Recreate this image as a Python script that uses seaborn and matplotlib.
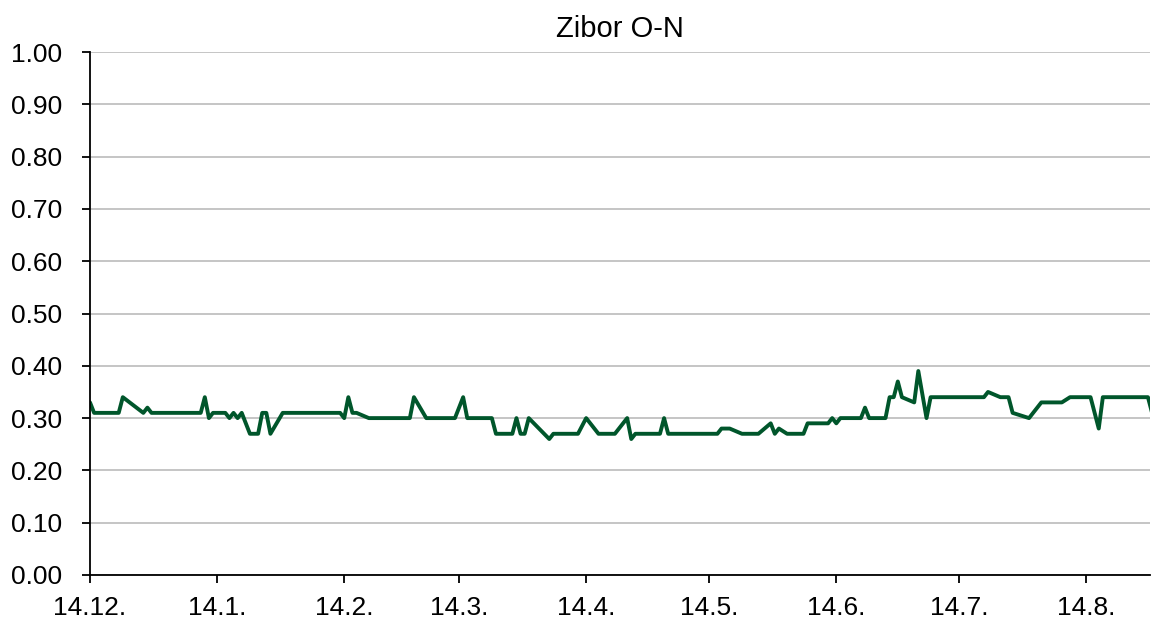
import pandas as pd
import matplotlib
matplotlib.use("Agg")
import matplotlib.pyplot as plt
import seaborn as sns

# Zibor O-N fixing, vertices
dates = [
    "2013-12-14", "2013-12-15", "2013-12-21", "2013-12-22", "2013-12-27", "2013-12-28",
    "2013-12-29", "2014-01-10", "2014-01-11", "2014-01-12", "2014-01-13", "2014-01-16",
    "2014-01-17", "2014-01-18", "2014-01-19", "2014-01-20", "2014-01-22", "2014-01-24",
    "2014-01-25", "2014-01-26", "2014-01-27", "2014-01-30", "2014-02-13", "2014-02-14",
    "2014-02-15", "2014-02-16", "2014-02-17", "2014-02-20", "2014-03-02", "2014-03-03",
    "2014-03-06", "2014-03-13", "2014-03-15", "2014-03-16", "2014-03-22", "2014-03-23",
    "2014-03-27", "2014-03-28", "2014-03-29", "2014-03-30", "2014-03-31", "2014-04-05",
    "2014-04-06", "2014-04-12", "2014-04-14", "2014-04-17", "2014-04-21", "2014-04-24",
    "2014-04-25", "2014-04-26", "2014-05-02", "2014-05-03", "2014-05-04", "2014-05-16",
    "2014-05-17", "2014-05-19", "2014-05-22", "2014-05-26", "2014-05-29", "2014-05-30",
    "2014-05-31", "2014-06-02", "2014-06-06", "2014-06-07", "2014-06-12", "2014-06-13",
    "2014-06-14", "2014-06-15", "2014-06-20", "2014-06-21", "2014-06-22", "2014-06-26",
    "2014-06-27", "2014-06-28", "2014-06-29", "2014-06-30", "2014-07-03", "2014-07-04",
    "2014-07-06", "2014-07-07", "2014-07-20", "2014-07-21", "2014-07-24", "2014-07-26",
    "2014-07-27", "2014-07-31", "2014-08-03", "2014-08-08", "2014-08-10", "2014-08-15",
    "2014-08-17", "2014-08-18", "2014-08-29", "2014-08-30",
]
rates = [
    0.33, 0.31, 0.31, 0.34, 0.31, 0.32,
    0.31, 0.31, 0.34, 0.30, 0.31, 0.31,
    0.30, 0.31, 0.30, 0.31, 0.27, 0.27,
    0.31, 0.31, 0.27, 0.31, 0.31, 0.30,
    0.34, 0.31, 0.31, 0.30, 0.30, 0.34,
    0.30, 0.30, 0.34, 0.30, 0.30, 0.27,
    0.27, 0.30, 0.27, 0.27, 0.30, 0.26,
    0.27, 0.27, 0.30, 0.27, 0.27, 0.30,
    0.26, 0.27, 0.27, 0.30, 0.27, 0.27,
    0.28, 0.28, 0.27, 0.27, 0.29, 0.27,
    0.28, 0.27, 0.27, 0.29, 0.29, 0.30,
    0.29, 0.30, 0.30, 0.32, 0.30, 0.30,
    0.34, 0.34, 0.37, 0.34, 0.33, 0.39,
    0.30, 0.34, 0.34, 0.35, 0.34, 0.34,
    0.31, 0.30, 0.33, 0.33, 0.34, 0.34,
    0.28, 0.34, 0.34, 0.31,
]

tick_dates = ["2013-12-14", "2014-01-14", "2014-02-14", "2014-03-14", "2014-04-14",
              "2014-05-14", "2014-06-14", "2014-07-14", "2014-08-14"]
tick_labels = ["14.12.", "14.1.", "14.2.", "14.3.", "14.4.", "14.5.", "14.6.", "14.7.", "14.8."]
y_ticks = [0.0, 0.1, 0.2, 0.3, 0.4, 0.5, 0.6, 0.7, 0.8, 0.9, 1.0]

df = pd.DataFrame({"date": pd.to_datetime(dates), "rate": rates})

sns.set_style("white")
plt.rcParams["font.family"] = ["Liberation Sans", "DejaVu Sans"]
plt.rcParams["text.color"] = "black"

fig = plt.figure(figsize=(11.51, 6.24), dpi=100)
ax = fig.add_axes([90 / 1151, 49 / 624, 1060 / 1151, 523 / 624])

sns.lineplot(data=df, x="date", y="rate", ax=ax, color="#00562B", linewidth=2.8)

ax.set_xlim(pd.Timestamp("2013-12-14"), pd.Timestamp("2014-08-29 12:00"))
ax.set_ylim(0, 1.0)
ax.set_yticks(y_ticks)
ax.set_yticklabels([f"{v:.2f}" for v in y_ticks])
ax.set_xticks(pd.to_datetime(tick_dates))
ax.set_xticklabels(tick_labels)

ax.grid(axis="y", color="#c0c0c0", linewidth=1.3)
ax.set_axisbelow(True)
for side in ["top", "right"]:
    ax.spines[side].set_visible(False)
for side in ["left", "bottom"]:
    ax.spines[side].set_color("black")
    ax.spines[side].set_linewidth(1.3)

ax.tick_params(axis="both", which="major", labelsize=19, length=6, width=1.3,
               color="black", labelcolor="black", direction="out", bottom=True, left=True)
ax.tick_params(axis="y", pad=14)
ax.tick_params(axis="x", pad=9)
ax.set_xlabel("")
ax.set_ylabel("")
ax.set_title("Zibor O-N", fontsize=21, pad=11, color="black")

fig.savefig("out.png", dpi=100)
